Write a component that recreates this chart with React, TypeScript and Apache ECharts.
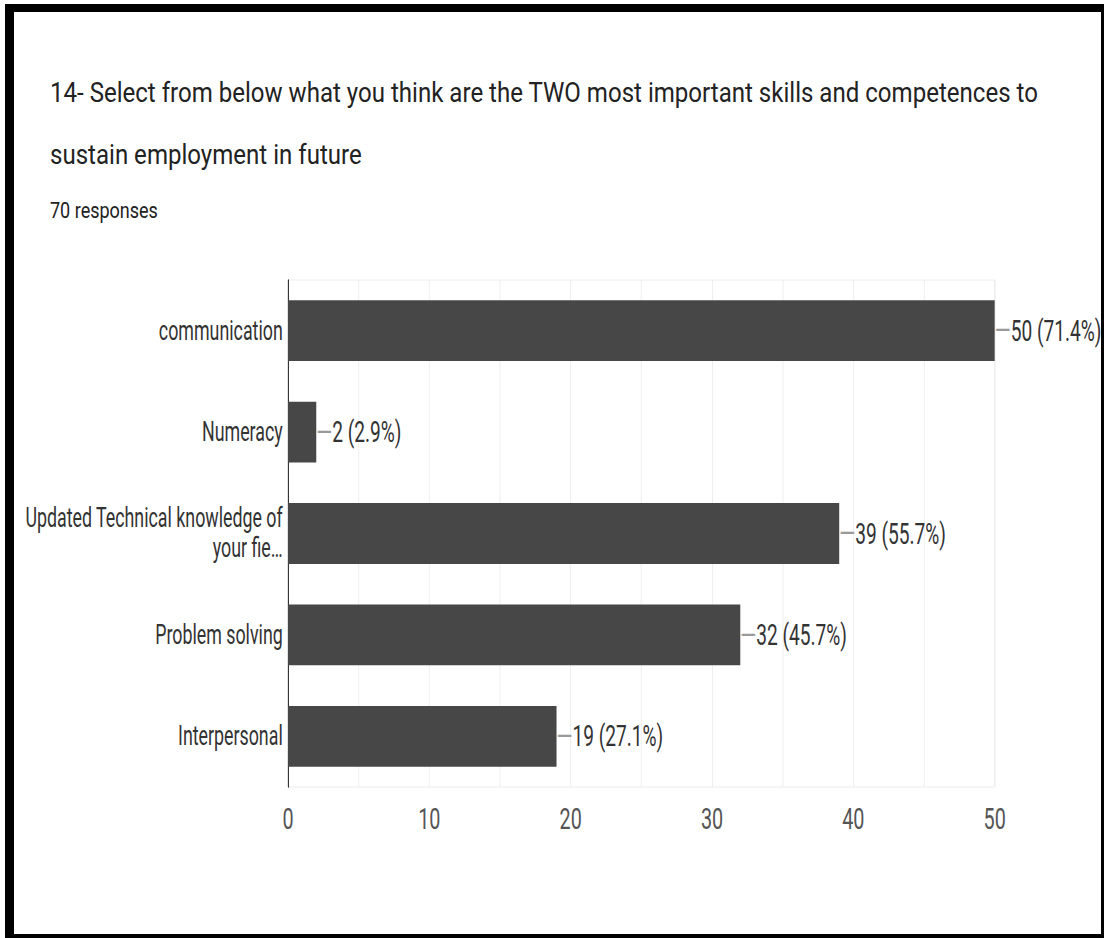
import React, { useEffect, useRef } from "react";
import * as echarts from "echarts";

const categories = [
  "communication",
  "Numeracy",
  "Updated Technical knowledge of\nyour fie…",
  "Problem solving",
  "Interpersonal",
];
const counts = [50, 2, 39, 32, 19];
const percents = ["71.4%", "2.9%", "55.7%", "45.7%", "27.1%"];
const tickValues = [0, 10, 20, 30, 40, 50];
const titleLine1 =
  "14- Select from below what you think are the TWO most important skills and competences to";
const titleLine2 = "sustain employment in future";
const subtitle = "70 responses";

const S = 0.66; // horizontal compression of the picture
const W = 1104;
const H = 938;
const VW = W / S;
const vx = (x: number) => x / S;

export default function App() {
  const ref = useRef<HTMLDivElement>(null);
  useEffect(() => {
    if (!ref.current) return;
    const chart = echarts.init(ref.current, undefined, { renderer: "svg" });
    const font = "Roboto, 'Noto Sans', sans-serif";
    chart.setOption({
      animation: false,
      backgroundColor: "#ffffff",
      grid: {
        left: vx(288),
        right: VW - vx(994.5),
        top: 280,
        bottom: H - 787,
        show: true,
        borderColor: "#e8e8e8",
        borderWidth: 1,
        containLabel: false,
      },
      xAxis: {
        type: "value",
        min: 0,
        max: 50,
        interval: 5,
        axisLine: { show: false },
        axisTick: { show: false },
        splitLine: { show: true, lineStyle: { color: "#ececec", width: 1 } },
        axisLabel: {
          margin: 16,
          fontFamily: font,
          fontSize: 30,
          color: "#555",
          formatter: (v: number) => (tickValues.includes(v) ? String(v) : ""),
        },
      },
      yAxis: {
        type: "category",
        inverse: true,
        data: categories,
        axisTick: { show: false },
        axisLine: { show: true, lineStyle: { color: "#222", width: 1.5 } },
        axisLabel: {
          margin: 8,
          fontFamily: font,
          fontSize: 27,
          lineHeight: 30,
          color: "#333",
          align: "right",
        },
      },
      series: [
        {
          type: "bar",
          data: counts,
          barWidth: "60%",
          itemStyle: { color: "#474747" },
          label: {
            show: true,
            position: "right",
            distance: 0,
            fontFamily: font,
            formatter: (p: any) =>
              "{l|—}{v|" + counts[p.dataIndex] + " (" + percents[p.dataIndex] + ")}",
            rich: {
              l: { color: "#9a9a9a", fontSize: 31, fontFamily: font },
              v: { color: "#333", fontSize: 29, fontFamily: font },
            },
          },
        },
      ],
      graphic: [
        {
          type: "text",
          x: vx(50),
          y: 92.5,
          scaleX: 1.35,
          style: {
            text: titleLine1,
            fontFamily: font,
            fontSize: 27,
            fill: "#222",
            textAlign: "left",
            textVerticalAlign: "middle",
          },
        },
        {
          type: "text",
          x: vx(50),
          y: 154.5,
          scaleX: 1.35,
          style: {
            text: titleLine2,
            fontFamily: font,
            fontSize: 27,
            fill: "#222",
            textAlign: "left",
            textVerticalAlign: "middle",
          },
        },
        {
          type: "text",
          x: vx(50),
          y: 210.5,
          scaleX: 1.24,
          style: {
            text: subtitle,
            fontFamily: font,
            fontSize: 22,
            fill: "#222",
            textAlign: "left",
            textVerticalAlign: "middle",
          },
        },
        { type: "rect", shape: { x: vx(5), y: 4, width: vx(1099), height: 8 }, style: { fill: "#000" } },
        { type: "rect", shape: { x: vx(5), y: 4, width: vx(9), height: 934 }, style: { fill: "#000" } },
        { type: "rect", shape: { x: vx(1101), y: 4, width: vx(3), height: 934 }, style: { fill: "#000" } },
        { type: "rect", shape: { x: vx(5), y: 934, width: vx(1099), height: 4 }, style: { fill: "#000" } },
      ],
    });
    return () => chart.dispose();
  }, []);
  return (
    <div
      style={{
        position: "fixed",
        left: 0,
        top: 0,
        width: W,
        height: H,
        overflow: "hidden",
        background: "#fff",
      }}
    >
      <div
        ref={ref}
        style={{
          width: VW,
          height: H,
          transform: `scaleX(${S})`,
          transformOrigin: "0 0",
        }}
      />
    </div>
  );
}
